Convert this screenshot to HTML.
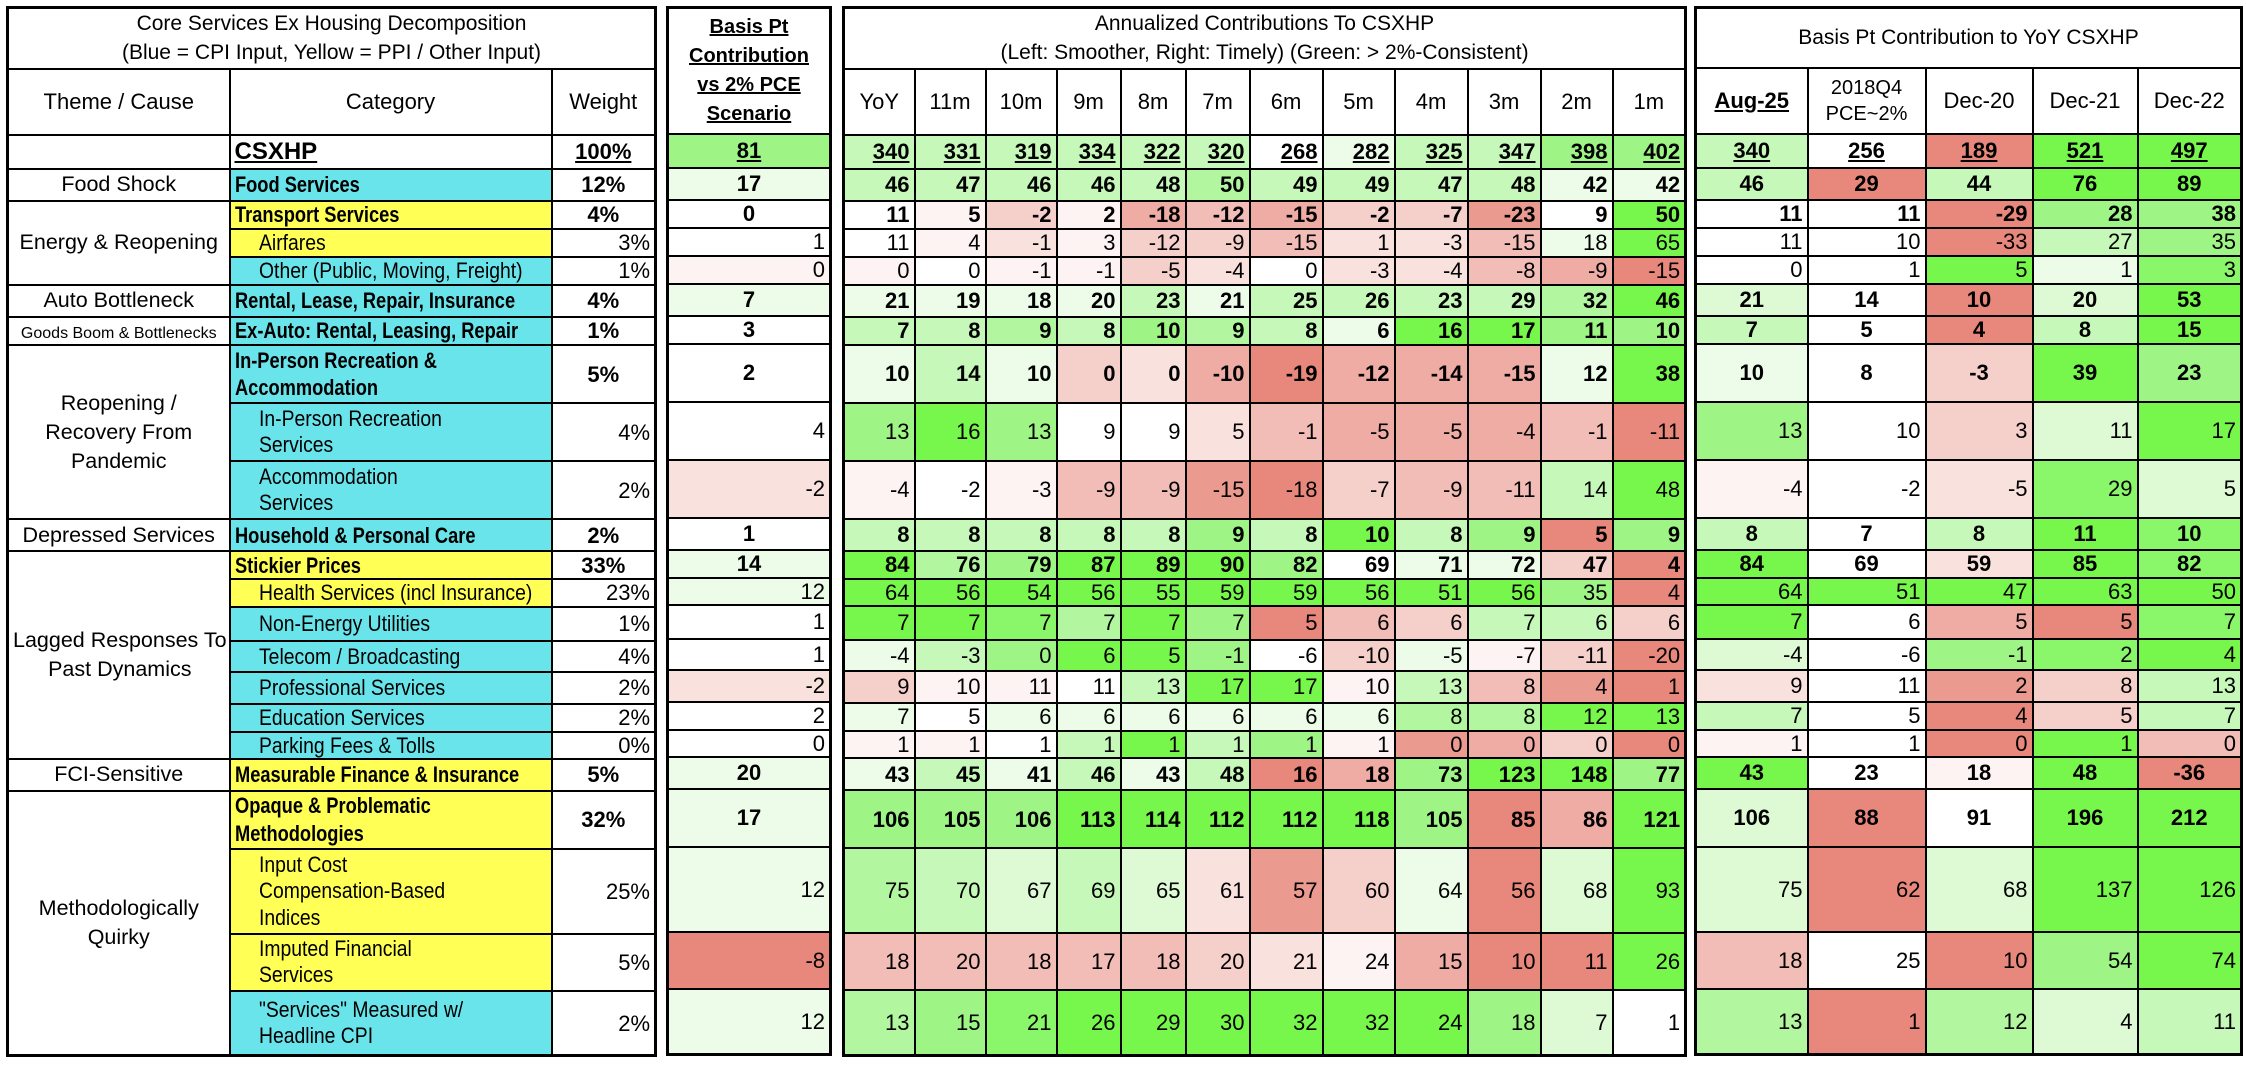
<!DOCTYPE html>
<html><head><meta charset="utf-8">
<style>
html,body{margin:0;padding:0;background:#fff;}
body{width:2246px;height:1068px;position:relative;overflow:hidden;font-family:"Liberation Sans",Arial,sans-serif;color:#000;}
table{position:absolute;top:6px;border-collapse:collapse;table-layout:fixed;border:3px solid #000;}
td{border:2px solid #000;padding:0 4px;font-size:22px;white-space:nowrap;overflow:hidden;line-height:1.15;box-sizing:border-box;}
.c{text-align:center}
.r{text-align:right}
.b td{font-weight:bold}
.u{text-decoration:underline;font-weight:bold}
.t{font-size:21px;text-align:center;line-height:1.4}
.h{font-size:22px;text-align:center}
.cy{background:#6AE4EB}
.ye{background:#FFFF55}
b.s{display:inline-block;transform:scaleX(.83);transform-origin:0 50%;font-size:22px}
span.s{display:inline-block;transform:scaleX(.88);transform-origin:0 50%;font-size:22px}
.sub{padding-left:28px}
.th{display:inline-block;font-size:21.5px;line-height:1.35}
.p3 td,.p4 td,.p2 td{text-align:right;padding-right:4px}
.p2 .b td,.p4 .b td{text-align:center}
.p2 td.t,.p3 td.t,.p4 td.t,.p3 td.h,.p4 td.h{text-align:center}
.G3{background:#77F74B}.G25{background:#8AF66A}.G2{background:#9EF586}.G15{background:#B3F6A0}.G1{background:#C6F8B9}.G05{background:#DDFAD4}.G0{background:#ECFCE8}.W{background:#fff}
.R0{background:#FDF3F2}.R05{background:#F9E1DE}.R1{background:#F5D0CB}.R15{background:#F1BDB6}.R2{background:#EEACA4}.R25{background:#EB9A90}.R3{background:#E8877B}
</style></head><body>

<!-- Panel 1 -->
<table style="left:6px;width:648px">
<colgroup><col style="width:222px"><col style="width:322px"><col style="width:104px"></colgroup>
<tr style="height:60px"><td colspan="3" class="t">Core Services Ex Housing Decomposition<br>(Blue = CPI Input, Yellow = PPI / Other Input)</td></tr>
<tr style="height:66px"><td class="h">Theme / Cause</td><td class="h">Category</td><td class="h">Weight</td></tr>
<tr style="height:34px"><td></td><td><span class="u" style="font-size:24px">CSXHP</span></td><td class="c"><span class="u">100%</span></td></tr>
<tr style="height:32px"><td class="c"><span class="th">Food Shock</span></td><td class="cy"><b class="s">Food Services</b></td><td class="c"><b>12%</b></td></tr>
<tr style="height:28px"><td rowspan="3" class="c"><span class="th">Energy &amp; Reopening</span></td><td class="ye"><b class="s">Transport Services</b></td><td class="c"><b>4%</b></td></tr>
<tr style="height:28px"><td class="ye sub"><span class="s">Airfares</span></td><td class="r">3%</td></tr>
<tr style="height:28px"><td class="cy sub"><span class="s">Other (Public, Moving, Freight)</span></td><td class="r">1%</td></tr>
<tr style="height:32px"><td class="c"><span class="th">Auto Bottleneck</span></td><td class="cy"><b class="s">Rental, Lease, Repair, Insurance</b></td><td class="c"><b>4%</b></td></tr>
<tr style="height:28px"><td class="c"><span class="th" style="font-size:16px">Goods Boom &amp; Bottlenecks</span></td><td class="cy"><b class="s">Ex-Auto: Rental, Leasing, Repair</b></td><td class="c"><b>1%</b></td></tr>
<tr style="height:58px"><td rowspan="3" class="c"><span class="th">Reopening /<br>Recovery From<br>Pandemic</span></td><td class="cy"><b class="s" style="line-height:1.25">In-Person Recreation &amp;<br>Accommodation</b></td><td class="c"><b>5%</b></td></tr>
<tr style="height:58px"><td class="cy sub"><span class="s" style="line-height:1.2">In-Person Recreation<br>Services</span></td><td class="r">4%</td></tr>
<tr style="height:58px"><td class="cy sub"><span class="s" style="line-height:1.2">Accommodation<br>Services</span></td><td class="r">2%</td></tr>
<tr style="height:32px"><td class="c"><span class="th">Depressed Services</span></td><td class="cy"><b class="s">Household &amp; Personal Care</b></td><td class="c"><b>2%</b></td></tr>
<tr style="height:28px"><td rowspan="7" class="c"><span class="th">Lagged Responses To<br>Past Dynamics</span></td><td class="ye"><b class="s">Stickier Prices</b></td><td class="c"><b>33%</b></td></tr>
<tr style="height:27px"><td class="ye sub"><span class="s">Health Services (incl Insurance)</span></td><td class="r">23%</td></tr>
<tr style="height:34px"><td class="cy sub"><span class="s">Non-Energy Utilities</span></td><td class="r">1%</td></tr>
<tr style="height:31px"><td class="cy sub"><span class="s">Telecom / Broadcasting</span></td><td class="r">4%</td></tr>
<tr style="height:32px"><td class="cy sub"><span class="s">Professional Services</span></td><td class="r">2%</td></tr>
<tr style="height:28px"><td class="cy sub"><span class="s">Education Services</span></td><td class="r">2%</td></tr>
<tr style="height:27px"><td class="cy sub"><span class="s">Parking Fees &amp; Tolls</span></td><td class="r">0%</td></tr>
<tr style="height:32px"><td class="c"><span class="th">FCI-Sensitive</span></td><td class="ye"><b class="s">Measurable Finance &amp; Insurance</b></td><td class="c"><b>5%</b></td></tr>
<tr style="height:58px"><td rowspan="4" class="c"><span class="th">Methodologically<br>Quirky</span></td><td class="ye"><b class="s" style="line-height:1.25">Opaque &amp; Problematic<br>Methodologies</b></td><td class="c"><b>32%</b></td></tr>
<tr style="height:85px"><td class="ye sub"><span class="s" style="line-height:1.2">Input Cost<br>Compensation-Based<br>Indices</span></td><td class="r">25%</td></tr>
<tr style="height:57px"><td class="ye sub"><span class="s" style="line-height:1.2">Imputed Financial<br>Services</span></td><td class="r">5%</td></tr>
<tr style="height:65px"><td class="cy sub"><span class="s" style="line-height:1.2">"Services" Measured w/<br>Headline CPI</span></td><td class="r">2%</td></tr>
</table>

<!-- Panel 2 -->
<table class="p2" style="left:666px;width:163px">
<colgroup><col style="width:163px"></colgroup>
<tr style="height:126px"><td class="t" style="font-weight:bold;text-decoration:underline;font-size:20px;line-height:1.45">Basis Pt<br>Contribution<br>vs 2% PCE<br>Scenario</td></tr>
<tr class="b" style="height:34px"><td class="G2"><span class="u">81</span></td></tr>
<tr class="b" style="height:32px"><td class="G0">17</td></tr>
<tr class="b" style="height:28px"><td class="W">0</td></tr>
<tr style="height:28px"><td class="W">1</td></tr>
<tr style="height:28px"><td class="R0">0</td></tr>
<tr class="b" style="height:32px"><td class="G0">7</td></tr>
<tr class="b" style="height:28px"><td class="W">3</td></tr>
<tr class="b" style="height:58px"><td class="W">2</td></tr>
<tr style="height:58px"><td class="W">4</td></tr>
<tr style="height:58px"><td class="R05">-2</td></tr>
<tr class="b" style="height:32px"><td class="W">1</td></tr>
<tr class="b" style="height:28px"><td class="G0">14</td></tr>
<tr style="height:27px"><td class="G0">12</td></tr>
<tr style="height:34px"><td class="W">1</td></tr>
<tr style="height:31px"><td class="W">1</td></tr>
<tr style="height:32px"><td class="R05">-2</td></tr>
<tr style="height:28px"><td class="W">2</td></tr>
<tr style="height:27px"><td class="W">0</td></tr>
<tr class="b" style="height:32px"><td class="G0">20</td></tr>
<tr class="b" style="height:58px"><td class="G0">17</td></tr>
<tr style="height:85px"><td class="G0">12</td></tr>
<tr style="height:57px"><td class="R3">-8</td></tr>
<tr style="height:65px"><td class="G0">12</td></tr>
</table>

<!-- Panel 3 -->
<table class="p3" style="left:842px;width:842px">
<colgroup><col style="width:71px"><col style="width:71px"><col style="width:71px"><col style="width:64px"><col style="width:65px"><col style="width:64px"><col style="width:73px"><col style="width:72px"><col style="width:73px"><col style="width:73px"><col style="width:72px"><col style="width:73px"></colgroup>
<tr style="height:60px"><td colspan="12" class="t">Annualized Contributions To CSXHP<br>(Left: Smoother, Right: Timely) (Green: &gt; 2%-Consistent)</td></tr>
<tr style="height:66px"><td class="h">YoY</td><td class="h">11m</td><td class="h">10m</td><td class="h">9m</td><td class="h">8m</td><td class="h">7m</td><td class="h">6m</td><td class="h">5m</td><td class="h">4m</td><td class="h">3m</td><td class="h">2m</td><td class="h">1m</td></tr>
<tr class="b" style="height:34px"><td class="G1"><span class="u">340</span></td><td class="G1"><span class="u">331</span></td><td class="G1"><span class="u">319</span></td><td class="G1"><span class="u">334</span></td><td class="G1"><span class="u">322</span></td><td class="G1"><span class="u">320</span></td><td class="W"><span class="u">268</span></td><td class="G0"><span class="u">282</span></td><td class="G1"><span class="u">325</span></td><td class="G1"><span class="u">347</span></td><td class="G2"><span class="u">398</span></td><td class="G2"><span class="u">402</span></td></tr>
<tr class="b" style="height:32px"><td class="G1">46</td><td class="G1">47</td><td class="G1">46</td><td class="G1">46</td><td class="G1">48</td><td class="G15">50</td><td class="G1">49</td><td class="G1">49</td><td class="G1">47</td><td class="G1">48</td><td class="G0">42</td><td class="G0">42</td></tr>
<tr class="b" style="height:28px"><td class="W">11</td><td class="R0">5</td><td class="R1">-2</td><td class="R0">2</td><td class="R2">-18</td><td class="R15">-12</td><td class="R2">-15</td><td class="R1">-2</td><td class="R1">-7</td><td class="R25">-23</td><td class="W">9</td><td class="G3">50</td></tr>
<tr style="height:28px"><td class="W">11</td><td class="R0">4</td><td class="R05">-1</td><td class="R0">3</td><td class="R1">-12</td><td class="R1">-9</td><td class="R15">-15</td><td class="R05">1</td><td class="R05">-3</td><td class="R15">-15</td><td class="G0">18</td><td class="G3">65</td></tr>
<tr style="height:28px"><td class="R0">0</td><td class="W">0</td><td class="R0">-1</td><td class="R0">-1</td><td class="R1">-5</td><td class="R05">-4</td><td class="W">0</td><td class="R05">-3</td><td class="R05">-4</td><td class="R15">-8</td><td class="R2">-9</td><td class="R3">-15</td></tr>
<tr class="b" style="height:32px"><td class="G0">21</td><td class="G0">19</td><td class="G0">18</td><td class="G0">20</td><td class="G1">23</td><td class="G0">21</td><td class="G1">25</td><td class="G1">26</td><td class="G1">23</td><td class="G1">29</td><td class="G15">32</td><td class="G3">46</td></tr>
<tr class="b" style="height:28px"><td class="G1">7</td><td class="G1">8</td><td class="G15">9</td><td class="G1">8</td><td class="G2">10</td><td class="G15">9</td><td class="G1">8</td><td class="G0">6</td><td class="G3">16</td><td class="G3">17</td><td class="G2">11</td><td class="G2">10</td></tr>
<tr class="b" style="height:58px"><td class="G0">10</td><td class="G1">14</td><td class="G0">10</td><td class="R1">0</td><td class="R05">0</td><td class="R2">-10</td><td class="R3">-19</td><td class="R2">-12</td><td class="R2">-14</td><td class="R2">-15</td><td class="G0">12</td><td class="G3">38</td></tr>
<tr style="height:58px"><td class="G2">13</td><td class="G3">16</td><td class="G2">13</td><td class="W">9</td><td class="W">9</td><td class="R05">5</td><td class="R15">-1</td><td class="R2">-5</td><td class="R2">-5</td><td class="R2">-4</td><td class="R15">-1</td><td class="R3">-11</td></tr>
<tr style="height:58px"><td class="R0">-4</td><td class="W">-2</td><td class="R0">-3</td><td class="R15">-9</td><td class="R15">-9</td><td class="R25">-15</td><td class="R3">-18</td><td class="R1">-7</td><td class="R15">-9</td><td class="R15">-11</td><td class="G1">14</td><td class="G3">48</td></tr>
<tr class="b" style="height:32px"><td class="G1">8</td><td class="G1">8</td><td class="G1">8</td><td class="G1">8</td><td class="G1">8</td><td class="G2">9</td><td class="G1">8</td><td class="G3">10</td><td class="G1">8</td><td class="G2">9</td><td class="R3">5</td><td class="G2">9</td></tr>
<tr class="b" style="height:28px"><td class="G3">84</td><td class="G15">76</td><td class="G2">79</td><td class="G3">87</td><td class="G3">89</td><td class="G3">90</td><td class="G2">82</td><td class="W">69</td><td class="G0">71</td><td class="G0">72</td><td class="R1">47</td><td class="R3">4</td></tr>
<tr style="height:27px"><td class="G3">64</td><td class="G3">56</td><td class="G3">54</td><td class="G3">56</td><td class="G3">55</td><td class="G3">59</td><td class="G3">59</td><td class="G3">56</td><td class="G3">51</td><td class="G3">56</td><td class="G2">35</td><td class="R3">4</td></tr>
<tr style="height:34px"><td class="G3">7</td><td class="G3">7</td><td class="G25">7</td><td class="G15">7</td><td class="G3">7</td><td class="G2">7</td><td class="R3">5</td><td class="R15">6</td><td class="R1">6</td><td class="G1">7</td><td class="G1">6</td><td class="R1">6</td></tr>
<tr style="height:31px"><td class="G0">-4</td><td class="G1">-3</td><td class="G2">0</td><td class="G3">6</td><td class="G3">5</td><td class="G2">-1</td><td class="W">-6</td><td class="R1">-10</td><td class="G0">-5</td><td class="R0">-7</td><td class="R1">-11</td><td class="R3">-20</td></tr>
<tr style="height:32px"><td class="R1">9</td><td class="R0">10</td><td class="R0">11</td><td class="W">11</td><td class="G1">13</td><td class="G3">17</td><td class="G3">17</td><td class="R0">10</td><td class="G1">13</td><td class="R15">8</td><td class="R25">4</td><td class="R3">1</td></tr>
<tr style="height:28px"><td class="G0">7</td><td class="W">5</td><td class="G0">6</td><td class="G0">6</td><td class="G0">6</td><td class="G0">6</td><td class="G0">6</td><td class="G0">6</td><td class="G15">8</td><td class="G15">8</td><td class="G3">12</td><td class="G3">13</td></tr>
<tr style="height:27px"><td class="R0">1</td><td class="R0">1</td><td class="W">1</td><td class="G1">1</td><td class="G3">1</td><td class="G1">1</td><td class="G2">1</td><td class="R0">1</td><td class="R25">0</td><td class="R2">0</td><td class="R1">0</td><td class="R3">0</td></tr>
<tr class="b" style="height:32px"><td class="G0">43</td><td class="G1">45</td><td class="G0">41</td><td class="G1">46</td><td class="G0">43</td><td class="G1">48</td><td class="R3">16</td><td class="R2">18</td><td class="G2">73</td><td class="G3">123</td><td class="G3">148</td><td class="G2">77</td></tr>
<tr class="b" style="height:58px"><td class="G2">106</td><td class="G2">105</td><td class="G2">106</td><td class="G3">113</td><td class="G3">114</td><td class="G3">112</td><td class="G3">112</td><td class="G3">118</td><td class="G2">105</td><td class="R3">85</td><td class="R2">86</td><td class="G3">121</td></tr>
<tr style="height:85px"><td class="G15">75</td><td class="G1">70</td><td class="G05">67</td><td class="G1">69</td><td class="G05">65</td><td class="R05">61</td><td class="R25">57</td><td class="R1">60</td><td class="G0">64</td><td class="R3">56</td><td class="G05">68</td><td class="G3">93</td></tr>
<tr style="height:57px"><td class="R15">18</td><td class="R15">20</td><td class="R15">18</td><td class="R15">17</td><td class="R15">18</td><td class="R1">20</td><td class="R05">21</td><td class="R0">24</td><td class="R2">15</td><td class="R3">10</td><td class="R3">11</td><td class="G3">26</td></tr>
<tr style="height:65px"><td class="G15">13</td><td class="G2">15</td><td class="G25">21</td><td class="G3">26</td><td class="G3">29</td><td class="G3">30</td><td class="G3">32</td><td class="G3">32</td><td class="G3">24</td><td class="G2">18</td><td class="G05">7</td><td class="W">1</td></tr>
</table>

<!-- Panel 4 -->
<table class="p4" style="left:1694px;width:546px">
<colgroup><col style="width:112px"><col style="width:118px"><col style="width:107px"><col style="width:105px"><col style="width:104px"></colgroup>
<tr style="height:60px"><td colspan="5" class="t">Basis Pt Contribution to YoY CSXHP</td></tr>
<tr style="height:66px"><td class="h"><span class="u" style="font-size:22px">Aug-25</span></td><td class="h" style="font-size:20px;line-height:1.3">2018Q4<br>PCE~2%</td><td class="h">Dec-20</td><td class="h">Dec-21</td><td class="h">Dec-22</td></tr>
<tr class="b" style="height:34px"><td class="G1"><span class="u">340</span></td><td class="W"><span class="u">256</span></td><td class="R3"><span class="u">189</span></td><td class="G3"><span class="u">521</span></td><td class="G3"><span class="u">497</span></td></tr>
<tr class="b" style="height:32px"><td class="G1">46</td><td class="R3">29</td><td class="G1">44</td><td class="G3">76</td><td class="G3">89</td></tr>
<tr style="height:28px"><td class="W"><b>11</b></td><td class="W"><b>11</b></td><td class="R3"><b>-29</b></td><td class="G2"><b>28</b></td><td class="G2"><b>38</b></td></tr>
<tr style="height:28px"><td class="W">11</td><td class="W">10</td><td class="R3">-33</td><td class="G1">27</td><td class="G2">35</td></tr>
<tr style="height:28px"><td class="W">0</td><td class="W">1</td><td class="G3">5</td><td class="G0">1</td><td class="G25">3</td></tr>
<tr class="b" style="height:32px"><td class="G05">21</td><td class="W">14</td><td class="R3">10</td><td class="G05">20</td><td class="G3">53</td></tr>
<tr class="b" style="height:28px"><td class="G1">7</td><td class="W">5</td><td class="R3">4</td><td class="G1">8</td><td class="G3">15</td></tr>
<tr class="b" style="height:58px"><td class="G0">10</td><td class="W">8</td><td class="R1">-3</td><td class="G3">39</td><td class="G2">23</td></tr>
<tr style="height:58px"><td class="G2">13</td><td class="W">10</td><td class="R1">3</td><td class="G05">11</td><td class="G3">17</td></tr>
<tr style="height:58px"><td class="R0">-4</td><td class="W">-2</td><td class="R05">-5</td><td class="G25">29</td><td class="G05">5</td></tr>
<tr class="b" style="height:32px"><td class="G1">8</td><td class="W">7</td><td class="G1">8</td><td class="G3">11</td><td class="G25">10</td></tr>
<tr class="b" style="height:28px"><td class="G3">84</td><td class="W">69</td><td class="R05">59</td><td class="G3">85</td><td class="G25">82</td></tr>
<tr style="height:27px"><td class="G3">64</td><td class="G3">51</td><td class="G3">47</td><td class="G3">63</td><td class="G3">50</td></tr>
<tr style="height:34px"><td class="G3">7</td><td class="W">6</td><td class="R2">5</td><td class="R3">5</td><td class="G25">7</td></tr>
<tr style="height:31px"><td class="G05">-4</td><td class="W">-6</td><td class="G2">-1</td><td class="G25">2</td><td class="G3">4</td></tr>
<tr style="height:32px"><td class="R05">9</td><td class="W">11</td><td class="R25">2</td><td class="R1">8</td><td class="G1">13</td></tr>
<tr style="height:28px"><td class="G1">7</td><td class="W">5</td><td class="R3">4</td><td class="R1">5</td><td class="G1">7</td></tr>
<tr style="height:27px"><td class="R0">1</td><td class="W">1</td><td class="R3">0</td><td class="G3">1</td><td class="R15">0</td></tr>
<tr class="b" style="height:32px"><td class="G3">43</td><td class="W">23</td><td class="R0">18</td><td class="G3">48</td><td class="R3">-36</td></tr>
<tr class="b" style="height:58px"><td class="G05">106</td><td class="R3">88</td><td class="W">91</td><td class="G3">196</td><td class="G3">212</td></tr>
<tr style="height:85px"><td class="G05">75</td><td class="R3">62</td><td class="G05">68</td><td class="G3">137</td><td class="G3">126</td></tr>
<tr style="height:57px"><td class="R15">18</td><td class="W">25</td><td class="R3">10</td><td class="G2">54</td><td class="G3">74</td></tr>
<tr style="height:65px"><td class="G15">13</td><td class="R3">1</td><td class="G15">12</td><td class="G05">4</td><td class="G1">11</td></tr>
</table>

</body></html>
